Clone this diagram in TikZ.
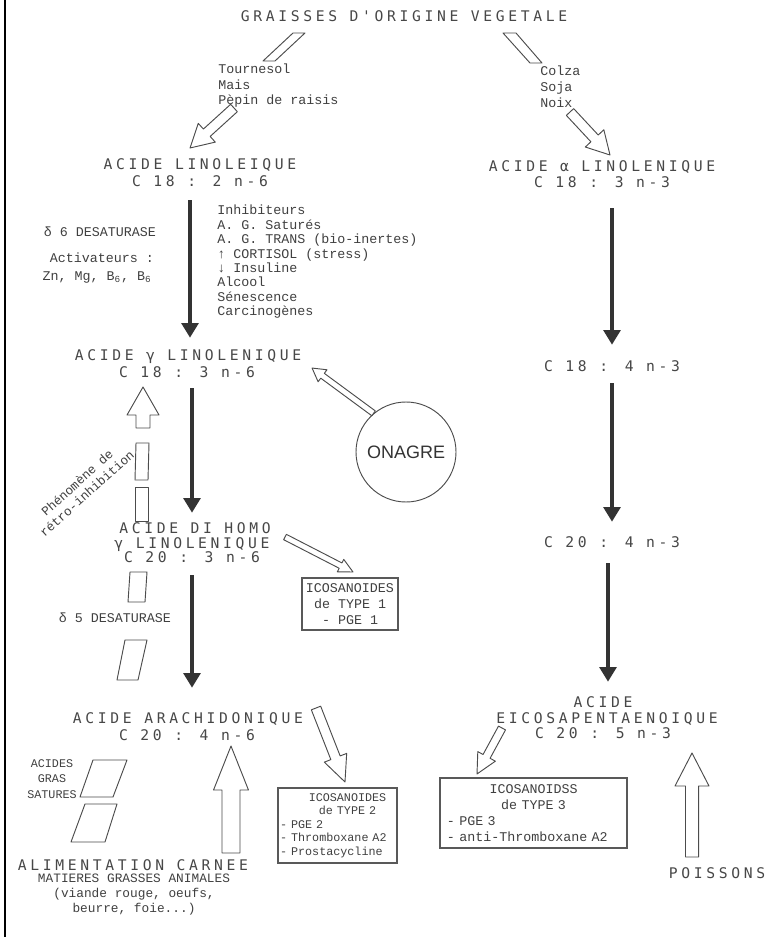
\documentclass[tikz,border=0pt]{standalone}
\usepackage{fontspec}
\usetikzlibrary{arrows.meta,calc}
\newfontfamily\hfont[LetterSpace=25]{DejaVu Sans Mono}
\newfontfamily\sfont{Liberation Mono}
\newfontfamily\ofont{Liberation Sans}
\newcommand\holarrow[6][]{%
 \draw[hol,#1] let \p1=#2, \p2=#3, \n1={atan2(\y2-\y1,\x2-\x1)}, \n2={veclen(\x2-\x1,\y2-\y1)} in
 [shift={(\p1)}, rotate=\n1] (0pt,#4) -- ({\n2-#6},#4) -- ({\n2-#6},#5) -- (\n2,0pt)
 -- ({\n2-#6},-#5) -- ({\n2-#6},-#4) -- (0pt,-#4) -- cycle;}
\begin{document}
\begin{tikzpicture}[x=0.75pt,y=-0.75pt,
 head/.style={font=\hfont\fontsize{11pt}{12pt}\selectfont, text=black!72, inner sep=0pt, text height=7.5pt, text depth=0pt},
 small/.style={font=\sfont\fontsize{10pt}{11pt}\selectfont, text=black!75, inner sep=0pt},
 box/.style={draw=black!65, line width=0.8pt, inner sep=0pt, text=black!75},
 solidarr/.style={line width=3.4pt, draw=black!80, -{Triangle[width=12.5pt,length=11pt]}},
 hol/.style={draw=black!70, line width=0.7pt, fill=white, line join=round},
 seg/.style={draw=black!70, line width=0.7pt, line join=round}]
\fill[white] (0,0) rectangle (778,937);
\useasboundingbox (0,0) rectangle (778,937);
\draw[line width=1.5pt] (5,0) -- (5,937);

% headings
\node[head] (title) at (404,17) {GRAISSES D'ORIGINE VEGETALE};
\node[head] (la1) at (200,165) {ACIDE LINOLEIQUE};
\node[head] (la2) at (200,182) {C 18 : 2 n-6};
\node[head] (ala1) at (602,167) {ACIDE α LINOLENIQUE};
\node[head] (ala2) at (602,183) {C 18 : 3 n-3};
\node[head] (gla1) at (188,355) {ACIDE γ LINOLENIQUE};
\node[head] (gla2) at (187,373) {C 18 : 3 n-6};
\node[head] (dg1) at (195,528) {ACIDE DI HOMO};
\node[head] (dg2) at (192,543) {γ LINOLENIQUE};
\node[head] (dg3) at (192,557) {C 20 : 3 n-6};
\node[head] (aa1) at (188,718) {ACIDE ARACHIDONIQUE};
\node[head] (aa2) at (187,735) {C 20 : 4 n-6};
\node[head] (c184) at (612,366) {C 18 : 4 n-3};
\node[head] (c204) at (612,542) {C 20 : 4 n-3};
\node[head] (epa1) at (603,702) {ACIDE};
\node[head] (epa2) at (607,718) {EICOSAPENTAENOIQUE};
\node[head] (epa3) at (603,733) {C 20 : 5 n-3};
\node[head] (alim) at (133,865) {ALIMENTATION CARNEE};
\node[head] (poiss) at (717,873) {POISSONS};

% small texts
\node[small, align=left, anchor=north west, font=\sfont\fontsize{10pt}{11.6pt}\selectfont] (tour) at (218,64) {Tournesol\\Mais\\Pèpin de raisis};
\node[small, align=left, anchor=north west, font=\sfont\fontsize{10pt}{12pt}\selectfont] (colza) at (540,66) {Colza\\Soja\\Noix};
\node[small, align=left, anchor=north west, font=\sfont\fontsize{10pt}{10.8pt}\selectfont] (inhib) at (217,205)
 {Inhibiteurs\\A. G. Saturés\\A. G. TRANS (bio-inertes)\\↑ CORTISOL (stress)\\↓ Insuline\\Alcool\\Sénescence\\Carcinogènes};
\node[small] (d6) at (100,232) {δ 6 DESATURASE};
\node[small] (activ) at (102,258) {Activateurs :};
\node[small] (zn) at (97,277) {Zn, Mg, B\textsubscript{6}, B\textsubscript{6}};
\node[small] (d5) at (115,618) {δ 5 DESATURASE};
\node[small, rotate=42, align=center, font=\sfont\fontsize{9.5pt}{11pt}\selectfont] (retro) at (82,488) {Phénomène de\\rétro-inhibition};
\node[small, align=center, font=\sfont\fontsize{8.8pt}{11.5pt}\selectfont] (ags) at (52,779) {ACIDES\\GRAS\\SATURES};
\node[small, align=center, font=\sfont\fontsize{9.6pt}{11.25pt}\selectfont] (mat) at (134,895) {MATIERES GRASSES ANIMALES\\(viande rouge, oeufs,\\beurre, foie...)};

% circle
\node[circle, draw=black!70, line width=0.7pt, minimum size=75pt, inner sep=0pt, text=black!80,
 font=\ofont\fontsize{13.5pt}{14pt}\selectfont] (onagre) at (406,452) {ONAGRE};

% boxes
\node[box, minimum width=72pt, minimum height=39pt, align=center,
 font=\sfont\fontsize{10pt}{12pt}\selectfont] (ic1) at (350,604) {ICOSANOIDES\\de TYPE 1\\- PGE 1};
\node[box, minimum width=89.25pt, minimum height=56.25pt, inner xsep=1.5pt, text width=86pt,
 font=\sfont\fontsize{8.8pt}{10.1pt}\selectfont] (ic2) at (337.5,825.5)
 {{\leftskip=15pt plus 1fil\rightskip=0pt plus 1fil\parfillskip=0pt ICOSANOIDES\\de TYPE 2\par}\raggedright - PGE 2\\- Thromboxane A2\\- Prostacycline};
\node[box, minimum width=140.25pt, minimum height=52.5pt, inner xsep=5pt, text width=130pt,
 font=\sfont\fontsize{10pt}{12pt}\selectfont] (ic3) at (533.5,813)
 {{\centering ICOSANOIDSS\\de TYPE 3\par}\raggedright - PGE 3\\- anti-Thromboxane A2};

% solid arrows
\draw[solidarr, shorten <=9.75pt, shorten >=9pt] ([xshift=-7.5pt]la2.south) -- ([xshift=1.5pt]gla1.north);
\draw[solidarr, shorten <=7.5pt, shorten >=7.5pt] ([xshift=3.75pt]gla2.south) -- ([xshift=-2.25pt]dg1.north);
\draw[solidarr, shorten <=9.75pt, shorten >=18.75pt] (dg3.south) -- ([xshift=3pt]aa1.north);
\draw[solidarr, shorten <=15pt, shorten >=12pt] ([xshift=7.5pt]ala2.south) -- (c184.north);
\draw[solidarr, shorten <=9pt, shorten >=11.25pt] (c184.south) -- (c204.north);
\draw[solidarr, shorten <=12pt, shorten >=11.25pt] ([xshift=-3pt]c204.south) -- ([xshift=3.75pt]epa1.north);

% hollow arrows
\coordinate (tls) at (234,108); \coordinate (tlt) at (190,148);
\coordinate (trs) at (570,112); \coordinate (trt) at (610,155);
\coordinate (onat) at (312,368);
\coordinate (dgs) at (285,537); \coordinate (ic1t) at (353,572);
\coordinate (aas) at (316,708); \coordinate (ic2t) at (345,782);
\coordinate (epas) at (502,728); \coordinate (ic3t) at (477,774);
\coordinate (rets) at (143,428); \coordinate (rett) at (143,387);
\coordinate (alims) at (231,853); \coordinate (alimt) at (231,746);
\coordinate (poiss0) at (692,857); \coordinate (poist) at (692,753);
\holarrow{(tls)}{(tlt)}{3.75pt}{9.5pt}{17pt}
\holarrow{(trs)}{(trt)}{3.75pt}{9.5pt}{17pt}
\holarrow{(onagre.130)}{(onat)}{2.25pt}{5.6pt}{9.75pt}
\holarrow{(dgs)}{(ic1t)}{2.25pt}{5.25pt}{10.5pt}
\holarrow{(aas)}{(ic2t)}{3.75pt}{9pt}{19.5pt}
\holarrow{(epas)}{(ic3t)}{3pt}{7.5pt}{15pt}
\holarrow{(rets)}{(rett)}{5.25pt}{12pt}{21pt}
\holarrow{(alims)}{(alimt)}{6.75pt}{13.1pt}{33pt}
\holarrow{(poiss0)}{(poist)}{4.9pt}{12.75pt}{24.75pt}

% broken shaft pieces
\draw[seg] (293,33) -- (305,33) -- (275,61) -- (263,61) -- cycle;
\draw[seg] (503,33) -- (516,33) -- (542,63) -- (530,63) -- cycle;
\draw[seg] (136,443) -- (149,443) -- (148,480) -- (135,480) -- cycle;
\draw[seg] (135,487) -- (148,487) -- (148,521) -- (135,521) -- cycle;
\draw[seg] (130,572) -- (147,572) -- (145,602) -- (128,602) -- cycle;
\draw[seg] (125,640) -- (147,640) -- (138,680) -- (117,680) -- cycle;
\draw[seg] (93,760) -- (127,760) -- (113,797) -- (80,797) -- cycle;
\draw[seg] (85,804) -- (117,804) -- (105,842) -- (71,842) -- cycle;
\end{tikzpicture}
\end{document}
